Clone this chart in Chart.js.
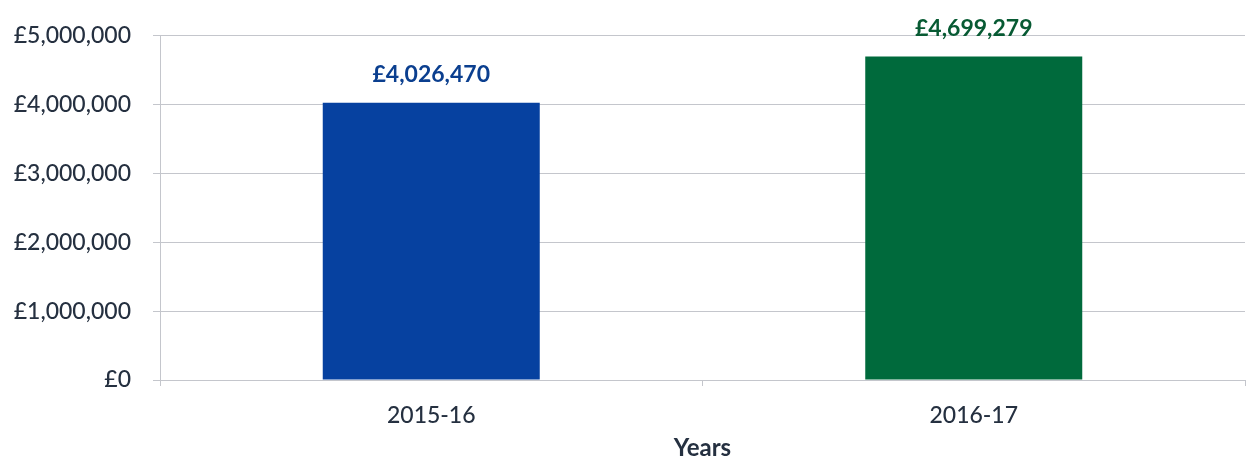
<!DOCTYPE html>
<html>
<head>
<meta charset="utf-8">
<script src="https://cdn.jsdelivr.net/npm/chart.js@4"></script>
<style>
  html, body { margin: 0; padding: 0; background: #ffffff; }
  #wrap { width: 1249px; height: 458px; }
</style>
</head>
<body>
<div id="wrap"><canvas id="c" width="1249" height="458"></canvas></div>
<script>
// Funding totals per financial year
const years = ['2015-16', '2016-17'];
const totals = [4026470, 4699279];
const barColours = ['#0641a0', '#006a3c'];
const labelColours = ['#0b3f8f', '#075a33'];
const yTicks = [0, 1000000, 2000000, 3000000, 4000000, 5000000];

const gbp = v => '£' + Math.round(v).toLocaleString('en-GB');

// Value labels written above each bar
const valueLabels = {
  id: 'valueLabels',
  afterDatasetsDraw(chart) {
    const ctx = chart.ctx;
    const meta = chart.getDatasetMeta(0);
    ctx.save();
    ctx.font = 'bold 23px Lato';
    ctx.textAlign = 'center';
    ctx.textBaseline = 'middle';
    meta.data.forEach((bar, i) => {
      ctx.fillStyle = labelColours[i];
      ctx.fillText(gbp(totals[i]), bar.x, bar.y - 28);
    });
    ctx.restore();
  }
};

const tickFont = { family: 'Lato', size: 23, weight: 500 };

new Chart(document.getElementById('c'), {
  type: 'bar',
  data: {
    labels: years,
    datasets: [{
      data: totals,
      backgroundColor: barColours,
      borderWidth: 0,
      barPercentage: 1,
      categoryPercentage: 0.4
    }]
  },
  options: {
    responsive: false,
    animation: false,
    layout: { padding: { top: 34, right: 4, left: 0, bottom: 0 } },
    plugins: { legend: { display: false }, tooltip: { enabled: false } },
    scales: {
      x: {
        grid: { display: true, drawOnChartArea: false, color: '#c4c6cc', tickLength: 6 },
        border: { color: '#c4c6cc' },
        ticks: { color: '#253040', font: tickFont, padding: 16 },
        title: { display: true, text: 'Years', color: '#253040', font: { family: 'Lato', size: 24, weight: 'bold' }, padding: { top: 0, bottom: -5 } },
        afterFit(s) { s.height = 78; }
      },
      y: {
        min: 0,
        max: 5000000,
        afterBuildTicks(s) { s.ticks = yTicks.map(v => ({ value: v })); },
        grid: { color: '#c4c6cc', tickLength: 7 },
        border: { color: '#c4c6cc' },
        ticks: { color: '#253040', font: tickFont, padding: 22, callback: v => gbp(v) },
        afterFit(s) { s.width = 160; }
      }
    }
  },
  plugins: [valueLabels]
});
</script>
</body>
</html>
